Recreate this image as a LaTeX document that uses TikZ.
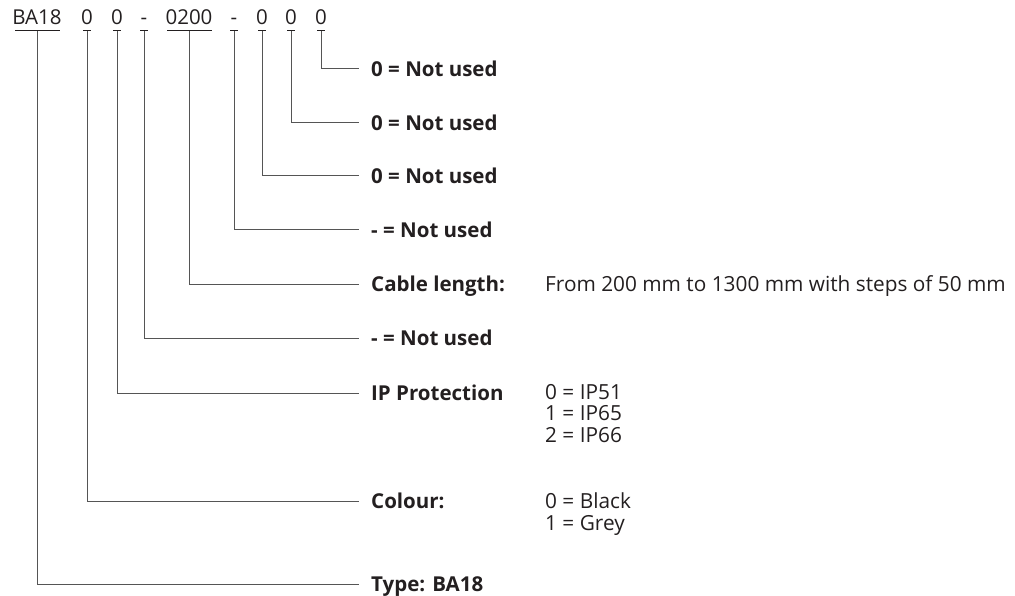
\documentclass[tikz,border=0pt]{standalone}
\usepackage{fontspec}
\setmainfont{Open Sans}
\definecolor{ink}{HTML}{231F20}
\definecolor{wire}{HTML}{555555}
\begin{document}
\begin{tikzpicture}[x=1pt,y=-1pt,
  code/.style={inner sep=0pt,anchor=base,text=ink,font=\fontsize{20.5}{22}\selectfont},
  lab/.style={inner sep=0pt,anchor=base west,text=ink,font=\fontsize{20.5}{22}\selectfont\bfseries},
  val/.style={inner sep=0pt,anchor=base west,text=ink,font=\fontsize{20.8}{22}\selectfont},
  uline/.style={draw=ink,line width=1pt},
  wireline/.style={draw=wire,line width=1pt}]
\useasboundingbox (0,0) rectangle (1015,596);
% code characters
\node[code] (cBA)  at (37,25)  {BA18};
\node[code] (cCol) at (87,25)  {0};
\node[code] (cIP)  at (117,25) {0};
\node[code] (cD1)  at (144,25) {-};
\node[code] (cLen) at (189,25) {0200};
\node[code] (cD2)  at (234,25) {-};
\node[code] (cZ1)  at (262,25) {0};
\node[code] (cZ2)  at (291,25) {0};
\node[code] (cZ3)  at (321,25) {0};
% underlines
\draw[uline] (15,31) -- (60,31);
\draw[uline] (83,31) -- (91,31);
\draw[uline] (113,31) -- (121,31);
\draw[uline] (140,31) -- (148,31);
\draw[uline] (167,31) -- (212,31);
\draw[uline] (230,31) -- (238,31);
\draw[uline] (258,31) -- (266,31);
\draw[uline] (287,31) -- (295,31);
\draw[uline] (317,31) -- (325,31);
% tick tops
\coordinate (tBA)  at (37,31);
\coordinate (tCol) at (87,31);
\coordinate (tIP)  at (117,31);
\coordinate (tD1)  at (144,31);
\coordinate (tLen) at (189,31);
\coordinate (tD2)  at (234,31);
\coordinate (tZ1)  at (262,31);
\coordinate (tZ2)  at (291,31);
\coordinate (tZ3)  at (321,31);
% line ends
\coordinate (eZ3)  at (359,69);
\coordinate (eZ2)  at (359,123);
\coordinate (eZ1)  at (359,176);
\coordinate (eD2)  at (359,230);
\coordinate (eLen) at (359,284);
\coordinate (eD1)  at (359,338);
\coordinate (eIP)  at (359,393);
\coordinate (eCol) at (359,501);
\coordinate (eBA)  at (359,584);
% labels
\node[lab] (lZ3)  at (371,76.5)  {0 = Not used};
\node[lab] (lZ2)  at (371,130.5) {0 = Not used};
\node[lab] (lZ1)  at (371,183.5) {0 = Not used};
\node[lab] (lD2)  at (371,237.5) {- = Not used};
\node[lab] (lLen) at (371,291.5) {Cable length:};
\node[lab] (lD1)  at (371,345.5) {- = Not used};
\node[lab] (lIP)  at (371,400.5) {IP Protection};
\node[lab] (lCol) at (371,508.5) {Colour:};
\node[lab] (lBA)  at (371,591.5) {Type: BA18};
% values
\node[val] (vLen) at (545,291.5) {From 200 mm to 1300 mm with steps of 50 mm};
\node[val] (vIP1) at (545,399) {0 = IP51};
\node[val] (vIP2) at (545,420.5) {1 = IP65};
\node[val] (vIP3) at (545,442) {2 = IP66};
\node[val] (vCol1) at (545,508.5) {0 = Black};
\node[val] (vCol2) at (545,530) {1 = Grey};
% connectors
\draw[wireline] (tZ3) |- (eZ3);
\draw[wireline] (tZ2) |- (eZ2);
\draw[wireline] (tZ1) |- (eZ1);
\draw[wireline] (tD2) |- (eD2);
\draw[wireline] (tLen) |- (eLen);
\draw[wireline] (tD1) |- (eD1);
\draw[wireline] (tIP) |- (eIP);
\draw[wireline] (tCol) |- (eCol);
\draw[wireline] (tBA) |- (eBA);
\end{tikzpicture}
\end{document}
